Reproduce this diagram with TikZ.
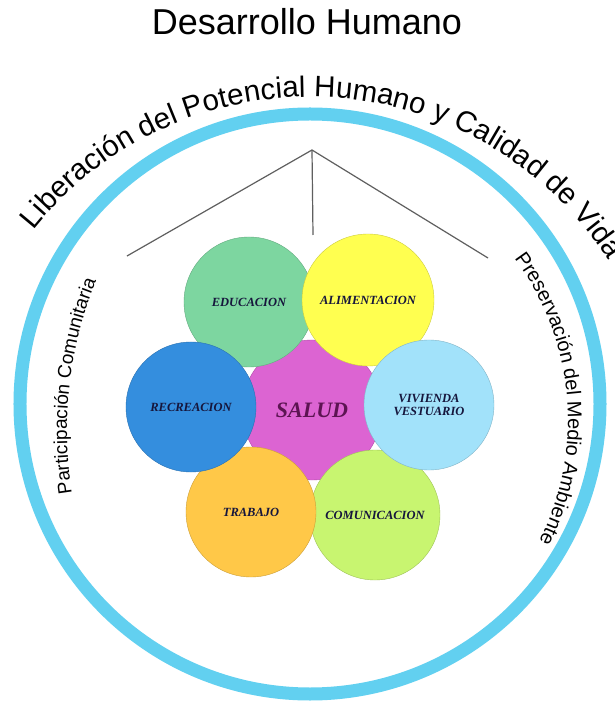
\documentclass[tikz,border=0pt]{standalone}
\usepackage{fontspec}
\setmainfont{Liberation Sans}
\newfontfamily\labelfont{Liberation Serif}
\usepackage{xcolor}
\usepackage{tikz}
\usetikzlibrary{positioning, decorations.text}
\definecolor{ringblue}{RGB}{98, 208, 240}
\definecolor{edugreen}{RGB}{125, 214, 160}
\definecolor{alimyellow}{RGB}{255, 255, 80}
\definecolor{recrblue}{RGB}{52, 142, 222}
\definecolor{saludpink}{RGB}{220, 100, 210}
\definecolor{vivblue}{RGB}{162, 226, 250}
\definecolor{trabgold}{RGB}{255, 200, 72}
\definecolor{comulime}{RGB}{200, 245, 112}
\definecolor{inkblue}{RGB}{22, 22, 60}
\definecolor{saludink}{RGB}{92, 20, 82}
\definecolor{branchgray}{RGB}{95, 95, 95}
\newcommand{\arcfont}{\fontsize{29.5}{30}\selectfont}
\newcommand{\leftfont}{\fontsize{19}{22}\selectfont}
\newcommand{\rightfont}{\fontsize{20}{22}\selectfont}

\begin{document}
\begin{tikzpicture}[
  x=1pt, y=1pt,
  petal/.style={circle, draw=#1!80!black, fill=#1, minimum size=130pt,
                inner sep=0pt, align=center, text=inkblue,
                font=\labelfont\bfseries\itshape\fontsize{12.5}{13}\selectfont},
  branch/.style={draw=branchgray, line width=1.2pt},
  ring/.style={draw=ringblue, line width=13pt}
]
  \useasboundingbox[fill=white] (-310,-302) rectangle (304,404);

  %% Title
  \node[anchor=base, font=\fontsize{36}{40}\selectfont] (title) at (-3,369)
    {Desarrollo Humano};

  %% Outer ring and texts along it
  \draw[ring] (0,0) circle (290pt);
  \path[decorate, decoration={text along path, text align=center,
        text={|\arcfont|Liberación del Potencial Humano y Calidad de Vida}}]
    ([shift={(0,-47)}]146:354pt) arc[start angle=146, end angle=28, radius=354pt];
  \path[decorate, decoration={text along path, text align=center,
        text={|\leftfont|Participación Comunitaria}}]
    ([shift={(153,-26)}]200:396pt) arc[start angle=200, end angle=147, radius=396pt];
  \path[decorate, decoration={text along path, text align=center,
        text={|\rightfont|Preservación del Medio Ambiente}}]
    ([shift={(-12,-16)}]45:270pt) arc[start angle=45, end angle=-35, radius=270pt];

  %% Branch lines
  \coordinate (apex) at (2,254);
  \coordinate (lend) at (-183,148);
  \coordinate (rend) at (178,146);
  \coordinate (vend) at (3,169);
  \draw[branch] (lend) -- (apex) -- (rend);
  \draw[branch] (apex) -- (vend);

  %% Circles
  \node[petal=saludpink, minimum size=140pt, text=saludink,
        font=\labelfont\bfseries\itshape\fontsize{22}{24}\selectfont]
        (salud) at (2,-6) {SALUD};
  \node[petal=comulime] (comu) at (65,-111) {COMUNICACION};
  \node[petal=trabgold] (trab) at (-59,-108) {TRABAJO};
  \node[petal=edugreen] (educ) at (-61,102) {EDUCACION};
  \node[petal=alimyellow, minimum size=132pt] (alim) at (58,104) {ALIMENTACION};
  \node[petal=recrblue] (recr) at (-119,-3) {RECREACION};
  \node[petal=vivblue] (vivi) at (119,-1) {VIVIENDA\\VESTUARIO};
\end{tikzpicture}
\end{document}
